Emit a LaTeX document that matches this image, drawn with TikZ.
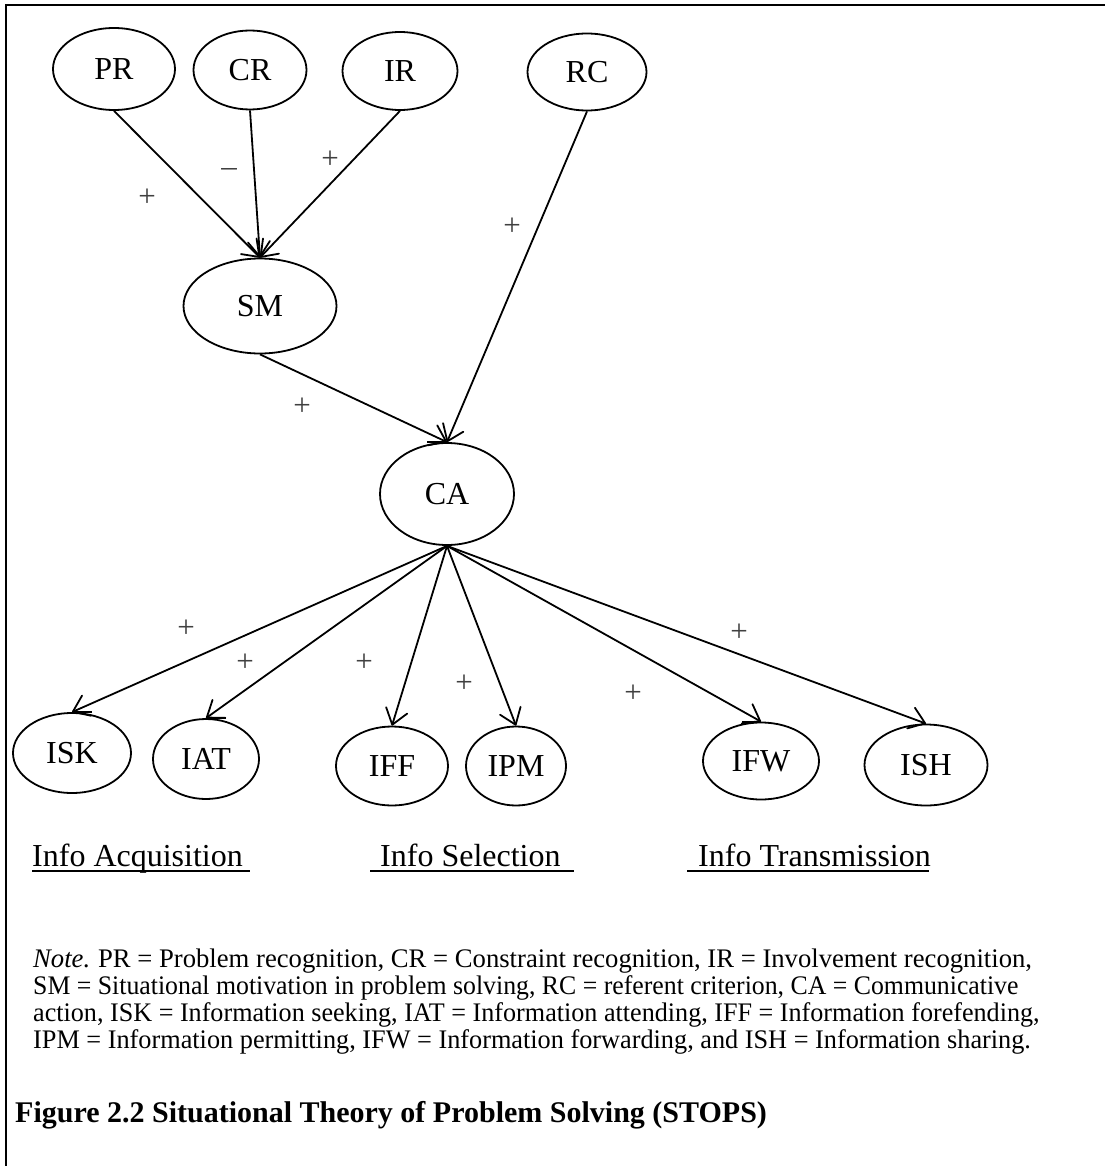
\documentclass[tikz,border=0pt]{standalone}
\usepackage{fontspec}
\setmainfont{Liberation Serif}
\usetikzlibrary{shapes.geometric,arrows.meta}
\tikzset{
  oval/.style={ellipse, draw, line width=1.8pt, inner sep=0pt, font=\fontsize{32}{36}\selectfont},
  arr/.style={line width=1.8pt, -{Straight Barb[length=15pt,width=22pt,round]}},
  sign/.style={font=\fontsize{31}{32}\selectfont, text=black!75, inner sep=0pt},
  header/.style={font=\fontsize{32}{36}\selectfont, anchor=base west, inner sep=0pt},
  uline/.style={line width=1.6pt},
  tick/.style={line width=2.2pt},
  notetext/.style={font=\fontsize{26.8}{28}\selectfont, anchor=base west, inner sep=0pt},
  captiontext/.style={font=\fontsize{30}{34}\selectfont\bfseries, anchor=base west, inner sep=0pt},
  frameline/.style={line width=2pt}
}
\begin{document}
\begin{tikzpicture}[x=1pt,y=-1pt]
\useasboundingbox (0,0) rectangle (1105,1166);
\draw[frameline] (6,1166) -- (6,5) -- (1105,5);

% top row
\node[oval, minimum width=122pt, minimum height=82pt] (PR) at (114,69) {PR};
\node[oval, minimum width=113pt, minimum height=79pt] (CR) at (250,70) {CR};
\node[oval, minimum width=115pt, minimum height=78pt] (IR) at (400,71) {IR};
\node[oval, minimum width=119pt, minimum height=77pt] (RC) at (587,72) {RC};
% middle
\node[oval, minimum width=153pt, minimum height=95pt] (SM) at (260,306) {SM};
\node[oval, minimum width=134pt, minimum height=102pt] (CA) at (447,494) {CA};
% bottom row
\node[oval, minimum width=118pt, minimum height=80pt] (ISK) at (72,753) {ISK};
\node[oval, minimum width=106pt, minimum height=80pt] (IAT) at (206,759) {IAT};
\node[oval, minimum width=112pt, minimum height=79pt] (IFF) at (392,766) {IFF};
\node[oval, minimum width=100pt, minimum height=79pt] (IPM) at (516,766) {IPM};
\node[oval, minimum width=116pt, minimum height=77pt] (IFW) at (761,761) {IFW};
\node[oval, minimum width=123pt, minimum height=81pt] (ISH) at (926,765) {ISH};

% connectors
\draw[arr] (PR.south) -- (SM.north);
\draw[arr] (CR.south) -- (SM.north);
\draw[arr] (IR.south) -- (SM.north);
\draw[arr] (RC.south) -- (CA.north);
\draw[arr] (SM.south) -- (CA.north);
\draw[arr] (CA.south) -- (ISK.north);
\draw[arr] (CA.south) -- (IAT.north);
\draw[arr] (CA.south) -- (IFF.north);
\draw[arr] (CA.south) -- (IPM.north);
\draw[arr] (CA.south) -- (IFW.north);
\draw[arr] (CA.south) -- (ISH.north);

% small flat ticks at some arrow tips
\draw[tick] (CA.north) -- ++(-20,0);
\draw[tick] (ISK.north) -- ++(20,0);
\draw[tick] (IAT.north) -- ++(20,0);
\draw[tick] (IFW.north) -- ++(-19,0);

% signs
\node[sign] (s1) at (147,198) {+};
\node[sign] (s2) at (229,173) {–};
\node[sign] (s3) at (330,160) {+};
\node[sign] (s4) at (512,227) {+};
\node[sign] (s5) at (302,407) {+};
\node[sign] (s6) at (186,629) {+};
\node[sign] (s7) at (245,663) {+};
\node[sign] (s8) at (364,663) {+};
\node[sign] (s9) at (464,684) {+};
\node[sign] (s10) at (633,694) {+};
\node[sign] (s11) at (739,633) {+};

% headers
\node[header] (h1) at (32,866) {Info Acquisition};
\node[header] (h2) at (380,866) {Info Selection};
\node[header] (h3) at (698,866) {Info Transmission};
\draw[uline] (32,871) -- (250,871);
\draw[uline] (370,871) -- (574,871);
\draw[uline] (687,871) -- (929,871);

% note
\node[notetext] (n1) at (33,967) {\scalebox{0.995}[1]{\textit{Note.}\kern-1pt{} PR = Problem recognition, CR = Constraint recognition, IR = Involvement recognition,}};
\node[notetext] (n2) at (33,994.3) {\scalebox{0.962}[1]{SM = Situational motivation in problem solving, RC = referent criterion, CA = Communicative}};
\node[notetext] (n3) at (33,1021.6) {\scalebox{0.975}[1]{action, ISK = Information seeking, IAT = Information attending, IFF = Information forefending,}};
\node[notetext] (n4) at (33,1048.9) {\scalebox{0.98}[1]{IPM = Information permitting, IFW = Information forwarding, and ISH = Information sharing.}};

% caption
\node[captiontext] (cap) at (15,1122) {Figure 2.2 Situational Theory of Problem Solving (STOPS)};
\end{tikzpicture}
\end{document}
